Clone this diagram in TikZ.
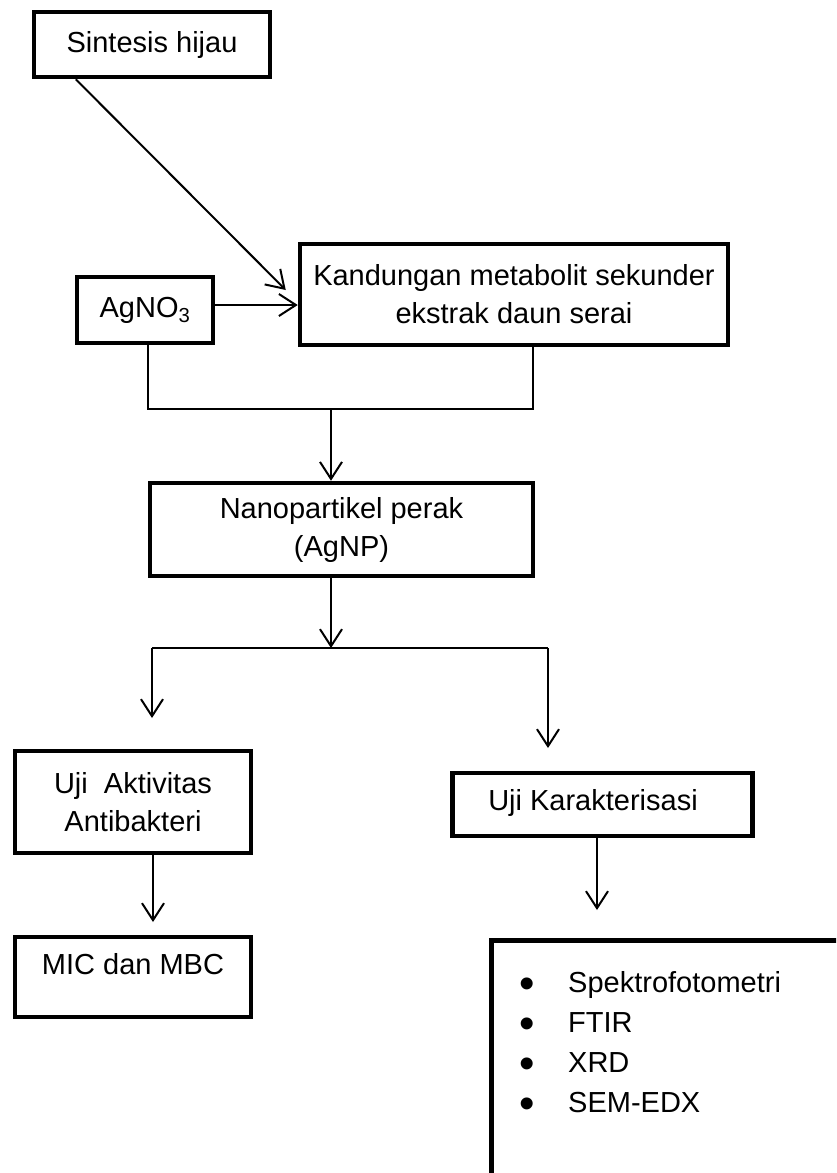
\documentclass[tikz,border=0pt]{standalone}
\usepackage{fontspec}
\setmainfont{Liberation Sans}
\usetikzlibrary{arrows.meta}
\begin{document}
\begin{tikzpicture}[x=1pt,y=-1pt,
  box/.style={draw, line width=4.5pt, rectangle, inner sep=0pt, align=center, font=\fontsize{29}{38}\selectfont},
  txt/.style={inner sep=0pt, font=\fontsize{29}{38}\selectfont},
  bul/.style={inner sep=0pt, text height=12pt, text depth=0pt, font=\fontsize{44}{44}\selectfont},
  conn/.style={line width=2pt},
  arr/.style={conn, -{Straight Barb[length=17pt,width=22pt,line width=2pt]}}]
\clip (0,0) rectangle (836,1173);
\fill[white] (0,0) rectangle (836,1173);

\node[box, minimum width=236pt, minimum height=65pt] (sint) at (152,44.5) {Sintesis hijau};
\node[box, minimum width=136pt, minimum height=66pt] (ag) at (145,310) {AgNO\textsubscript{3}};
\node[box, minimum width=428pt, minimum height=101pt] (kand) at (514,294.5) {Kandungan metabolit sekunder\\ekstrak daun serai};
\node[box, minimum width=383pt, minimum height=93pt] (nano) at (341.5,529.5) {Nanopartikel perak\\(AgNP)};
\node[box, minimum width=236pt, minimum height=102pt] (uji) at (133,802) {Uji\ \ Aktivitas\\Antibakteri};
\node[box, minimum width=300pt, minimum height=63pt] (kar) at (602.5,804.5) {};
\node[txt] (kart) at (593,803) {Uji Karakterisasi};
\node[box, minimum width=236pt, minimum height=80pt] (mic) at (133,977) {};
\node[txt] (mict) at (133,964) {MIC dan MBC};
\node[box, minimum width=500pt, minimum height=400pt, anchor=north west] (list) at (489,938) {};

\node[txt, anchor=base west] (l1) at (568,992) {Spektrofotometri};
\node[txt, anchor=base west] (l2) at (568,1032) {FTIR};
\node[txt, anchor=base west] (l3) at (568,1072) {XRD};
\node[txt, anchor=base west] (l4) at (568,1112) {SEM-EDX};
\node[bul, anchor=base] (b1) at (527,998) {•};
\node[bul, anchor=base] (b2) at (527,1038) {•};
\node[bul, anchor=base] (b3) at (527,1078) {•};
\node[bul, anchor=base] (b4) at (527,1118) {•};

\draw[arr] ([xshift=44pt]sint.south west) -- ([xshift=-12pt,yshift=4.5pt]kand.west);
\draw[arr] ([yshift=5pt]ag.east) -- ([yshift=5pt]ag.east -| kand.west);

\coordinate (join) at (331,409);
\draw[conn] ([xshift=3pt]ag.south) |- (join) -| ([xshift=19pt]kand.south);
\draw[arr] (join) -- (join |- nano.north);

\coordinate (split) at (331,648);
\coordinate (sl) at (152,648);
\coordinate (sr) at (548,648);
\coordinate (tl) at (152,718);
\coordinate (tr) at (548,748);
\draw[arr] (split |- nano.south) -- (split);
\draw[conn] (sl) -- (sr);
\draw[arr] (sl) -- (tl);
\draw[arr] (sr) -- (tr);

\coordinate (tm) at (153,922);
\draw[arr] ([xshift=20pt]uji.south) -- (tm);
\coordinate (tk) at (597,910);
\draw[arr] ([xshift=-5.5pt]kar.south) -- (tk);
\end{tikzpicture}
\end{document}
